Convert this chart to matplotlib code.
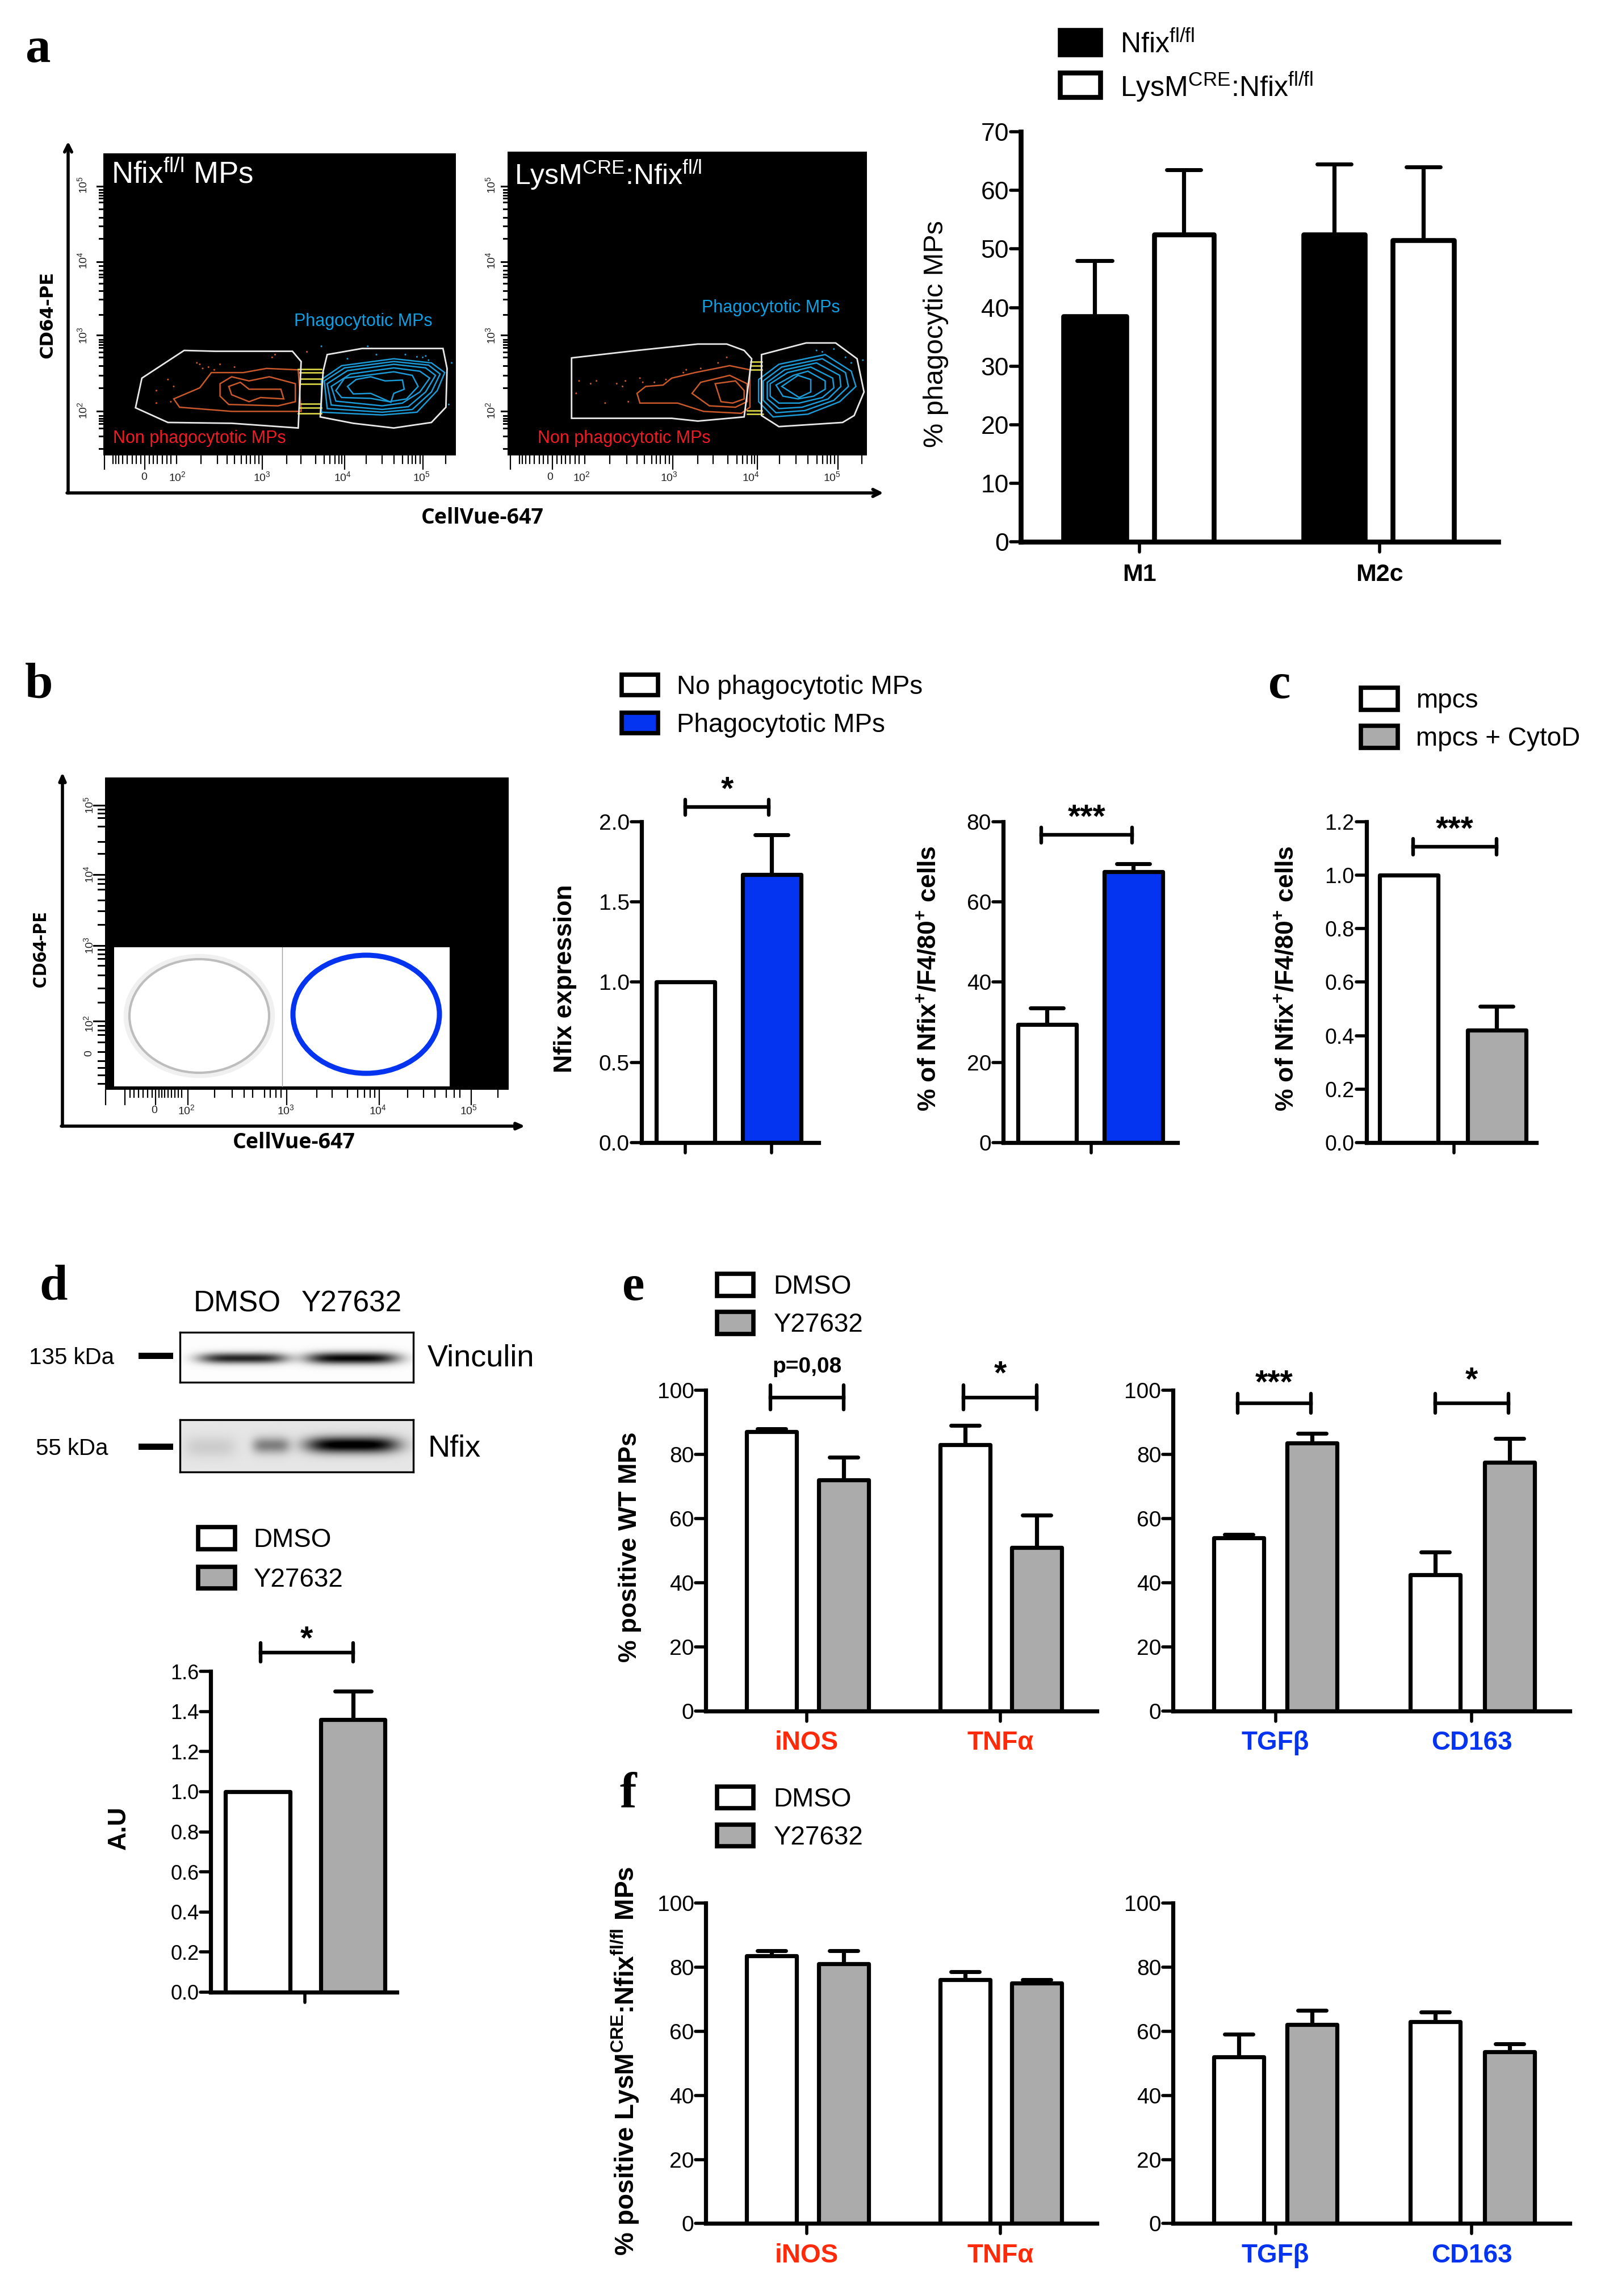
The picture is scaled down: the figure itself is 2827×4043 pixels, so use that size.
import numpy as np
import matplotlib
matplotlib.use("Agg")
import matplotlib.pyplot as plt
from matplotlib.markers import MarkerStyle
from matplotlib.patches import Rectangle, Ellipse, Polygon

plt.rcParams['font.family'] = ['Liberation Sans', 'DejaVu Sans']
plt.rcParams['mathtext.fontset'] = 'custom'
plt.rcParams['mathtext.rm'] = 'Liberation Sans'
plt.rcParams['mathtext.bf'] = 'Liberation Sans:bold'
plt.rcParams['mathtext.it'] = 'Liberation Sans:italic'
plt.rcParams['mathtext.default'] = 'regular'

W, H = 2827, 4043
S = W / 1096.0
GREY = '#ababab'
BLUE = '#0534f0'
RED = '#ff2a0a'

# ---------------- data (means and upper error limits) ----------------
a_vals = [38.5, 52.5, 52.5, 51.5]
a_errs = [48, 63.5, 64.5, 64]
a_cats = ['M1', 'M2c']
b1_vals = [1.0, 1.67]
b1_errs = [1.0, 1.92]
b2_vals = [29.5, 67.5]
b2_errs = [33.5, 69.5]
c_vals = [1.0, 0.42]
c_errs = [1.0, 0.51]
d_vals = [1.0, 1.36]
d_errs = [1.0, 1.50]
e1_vals = [87, 72, 83, 51]
e1_errs = [88, 79, 89, 61]
e2_vals = [54, 83.5, 42.5, 77.5]
e2_errs = [55, 86.5, 49.5, 85]
f1_vals = [83.5, 81, 76, 75]
f1_errs = [85, 85, 78.5, 76]
f2_vals = [52, 62, 63, 53.5]
f2_errs = [59, 66.5, 66, 56]
cats_left = ['iNOS', 'TNFα']
cats_right = ['TGFβ', 'CD163']

fig = plt.figure(figsize=(W / 100, H / 100), dpi=100, facecolor='white')
ov = fig.add_axes([0, 0, 1, 1], zorder=1)
ov.set_xlim(0, W)
ov.set_ylim(H, 0)
ov.axis('off')


def D(v):
    return v * S


def barpanel(x0, x1, y0, y1, ymax, ticks, lefts, rights, vals, errs, colors,
             ticklabels=None, xticks=(), xlabels=(), lab_colors=None, tsize=28,
             lab_size=33, lab_pad=12, lw=5.2):
    ax = fig.add_axes([D(x0) / W, 1 - D(y0) / H, D(x1 - x0) / W, D(y0 - y1) / H], zorder=2)
    ax.patch.set_alpha(0)
    ax.set_xlim(x0, x1)
    ax.set_ylim(0, ymax)
    for s in ('top', 'right'):
        ax.spines[s].set_visible(False)
    for s in ('left', 'bottom'):
        ax.spines[s].set_linewidth(lw)
    for l, r, v, e, c in zip(lefts, rights, vals, errs, colors):
        m = (l + r) / 2
        if e > v:
            cont = ax.errorbar(m, v, yerr=[[0], [e - v]], color='black', elinewidth=5.2,
                               capsize=(r - l) * S * 0.72 * 0.28, capthick=5, zorder=1)
            for cap in cont[1]:
                cap.set_marker(MarkerStyle('_', capstyle='round'))
        ax.bar(m, v, width=r - l, color=c, edgecolor='black', linewidth=lw, zorder=2,
               joinstyle='round')
    ax.set_yticks(ticks)
    ax.set_yticklabels(ticklabels if ticklabels else [str(t) for t in ticks], fontsize=tsize)
    ax.tick_params(axis='y', length=13, width=4, pad=2)
    ax.set_xticks(list(xticks))
    ax.tick_params(axis='x', length=13, width=4)
    if xlabels:
        ax.set_xticklabels(xlabels, fontsize=lab_size, fontweight='bold')
        ax.tick_params(axis='x', pad=lab_pad)
        if lab_colors:
            for t, c in zip(ax.get_xticklabels(), lab_colors):
                t.set_color(c)
    else:
        ax.set_xticklabels([])
    for ln in ax.get_yticklines() + ax.get_xticklines():
        ln.set_marker(MarkerStyle(ln.get_marker(), capstyle='round'))
    return ax


def bracket(x0, x1, y, label, ly=None, size=41, weight='bold', h=5.3):
    for xe in (x0, x1):
        ov.plot([D(xe), D(xe)], [D(y - h), D(y + h)], color='black', lw=4.6, solid_capstyle='round')
    ov.plot([D(x0), D(x1)], [D(y), D(y)], color='black', lw=4.6)
    ov.text(D((x0 + x1) / 2), D(ly), label, ha='center', va='center',
            fontsize=size, fontweight=weight)


def legend(x0, x1, rows, colors, labels, tx, size=33, lw=5.5):
    inset = lw * 100 / 72 / 2
    for (y0, y1), c, l in zip(rows, colors, labels):
        ov.add_patch(Rectangle((D(x0) + inset, D(y0) + inset), D(x1 - x0) - 2 * inset, D(y1 - y0) - 2 * inset,
                               fc=c, ec='black', lw=lw))
        ov.text(D(tx), D((y0 + y1) / 2 + 1.5), l, ha='left', va='center', fontsize=size)


def ylabel(x, y, txt, size=32, weight='bold'):
    ov.text(D(x), D(y), txt, rotation=90, ha='center', va='center', fontsize=size, fontweight=weight)


def plabel(x, y, t):
    ov.text(D(x), D(y), t, ha='left', va='center', fontsize=64, fontweight='bold',
            family='Liberation Serif')


# panel letters
plabel(17, 34, 'a')
plabel(17, 468, 'b')
plabel(866, 468, 'c')
plabel(27, 879, 'd')
plabel(425, 879, 'e')
plabel(423, 1225, 'f')

# ---------------- flow cytometry: zoom coordinate helpers ----------------
zx = lambda x: np.asarray(x, float) * 1.02
zy = lambda y: 200 + np.asarray(y, float) / 2.05


def poly(pts, color, lw=1.8, z=5):
    p = np.array(pts, float)
    ov.add_patch(Polygon(np.c_[zx(p[:, 0]), zy(p[:, 1])], closed=True, fill=False, ec=color, lw=lw, zorder=z))


gate_l1 = [(318, 855), (372, 858), (505, 858), (520, 895), (515, 1135), (400, 1118), (290, 1115), (234, 1062), (245, 955)]
gate_l2 = [(565, 870), (625, 848), (765, 848), (772, 920), (770, 1060), (745, 1115), (680, 1135), (610, 1118), (553, 1095), (558, 930)]
gate_r1 = [(987, 882), (1100, 855), (1205, 832), (1255, 832), (1285, 855), (1298, 885), (1285, 1095), (1205, 1110), (1160, 1100), (987, 1100)]
gate_r2 = [(1315, 870), (1392, 828), (1443, 828), (1480, 885), (1492, 1005), (1475, 1090), (1455, 1115), (1345, 1130), (1315, 1090)]

orange_l = [
    [(300, 1030), (345, 990), (365, 935), (420, 935), (460, 920), (515, 925), (520, 1075), (400, 1075), (310, 1060)],
    [(380, 975), (400, 950), (430, 965), (465, 950), (510, 975), (510, 1040), (480, 1055), (395, 1050), (380, 1020)],
    [(395, 985), (415, 970), (430, 995), (485, 995), (490, 1030), (450, 1025), (430, 1040), (400, 1015)],
]
orange_r = [
    [(1100, 1010), (1115, 985), (1145, 980), (1160, 955), (1200, 935), (1260, 910), (1295, 925), (1295, 1060), (1280, 1082), (1215, 1075), (1170, 1045), (1105, 1045)],
    [(1195, 1010), (1210, 970), (1260, 945), (1290, 975), (1290, 1040), (1270, 1060), (1225, 1055)],
    [(1235, 975), (1270, 965), (1285, 1000), (1285, 1030), (1265, 1045), (1245, 1040)],
]
blue_l = [
    [(555, 960), (590, 910), (680, 885), (745, 900), (768, 935), (755, 1000), (720, 1078), (660, 1088), (555, 1078)],
    [(560, 965), (595, 918), (680, 895), (740, 908), (760, 940), (745, 1005), (712, 1068), (660, 1078), (565, 1065)],
    [(565, 975), (600, 928), (680, 905), (735, 918), (752, 945), (735, 1005), (705, 1058), (660, 1068), (572, 1052)],
    [(572, 985), (605, 940), (680, 918), (725, 930), (742, 955), (725, 1005), (695, 1045), (660, 1055), (580, 1038)],
    [(580, 1000), (595, 955), (680, 932), (712, 945), (722, 985), (702, 1030), (672, 1040), (640, 1028), (590, 1025)],
    [(600, 985), (615, 960), (640, 950), (665, 965), (695, 962), (698, 995), (680, 1010), (675, 1042), (640, 1010), (610, 1012)],
]
blue_r = [
    [(1310, 960), (1345, 905), (1425, 870), (1470, 930), (1478, 985), (1450, 1040), (1395, 1085), (1335, 1095), (1310, 1040)],
    [(1318, 965), (1350, 915), (1420, 885), (1460, 935), (1465, 985), (1440, 1035), (1390, 1072), (1340, 1080), (1318, 1035)],
    [(1325, 970), (1355, 925), (1410, 900), (1450, 945), (1452, 985), (1430, 1030), (1385, 1060), (1345, 1065), (1325, 1030)],
    [(1330, 975), (1360, 935), (1400, 915), (1438, 955), (1440, 990), (1420, 1025), (1380, 1045), (1345, 1045), (1330, 1020)],
    [(1340, 980), (1370, 945), (1395, 930), (1425, 965), (1425, 995), (1405, 1020), (1378, 1030), (1352, 1020)],
    [(1350, 985), (1378, 945), (1400, 960), (1400, 1005), (1380, 1025)],
]
yellow_l = [(515, 555, 922), (518, 558, 935), (520, 555, 958), (520, 555, 975), (520, 552, 1048), (518, 555, 1062), (515, 555, 1082)]
yellow_r = [(1296, 1316, 895), (1296, 1316, 910), (1296, 1316, 925), (1290, 1316, 1072), (1290, 1318, 1085)]
dots_lx = [270, 290, 300, 345, 360, 380, 405, 470, 295, 270, 530, 555, 635, 735, 780, 775, 730, 700, 350, 370, 340, 475, 600, 650, 720, 740]
dots_ly = [1045, 960, 985, 905, 915, 905, 915, 880, 1040, 1000, 860, 840, 840, 875, 900, 1050, 880, 870, 920, 925, 900, 870, 885, 870, 878, 890]
dots_rx = [1000, 1030, 1065, 1080, 1105, 1130, 1150, 1180, 1210, 1240, 1255, 995, 1045, 1085, 1440, 1470, 1420, 1490, 1020, 1075, 1110, 1185, 1410, 1460]
dots_ry = [965, 965, 975, 965, 955, 970, 960, 935, 920, 900, 880, 1010, 1045, 1040, 850, 900, 860, 890, 975, 985, 970, 925, 855, 880]

ytick_l = [262, 275, 285, 295, 305, 320, 345, 375, 405, 450, 535, 550, 565, 580, 590, 612, 640, 670, 725, 800, 815, 825, 835, 845, 860, 880, 910, 945, 990, 1075, 1090, 1100, 1110, 1120, 1135, 1165, 1210]
xtick_l = [180, 195, 200, 205, 212, 220, 228, 235, 243, 250, 258, 265, 272, 280, 288, 295, 305, 347, 375, 392, 405, 417, 425, 432, 440, 447, 453, 495, 520, 545, 560, 570, 578, 585, 590, 595, 632, 660, 680, 695, 705, 712, 718, 725, 730, 770]

flow_panels = [
    dict(x0=178, x1=787, y0=143, y1=1235, gates=[gate_l1, gate_l2], org=orange_l, blu=blue_l, yel=yellow_l,
         dx=dots_lx, dy=dots_ly, shift=0, ylx=143, xlab=[249, 306, 452, 592, 728]),
    dict(x0=876, x1=1497, y0=137, y1=1235, gates=[gate_r1, gate_r2], org=orange_r, blu=blue_r, yel=yellow_r,
         dx=dots_rx, dy=dots_ry, shift=700, ylx=848, xlab=[950, 1004, 1155, 1297, 1437]),
]
for fp in flow_panels:
    ov.add_patch(Rectangle((zx(fp['x0']), zy(fp['y0'])), zx(fp['x1']) - zx(fp['x0']), zy(fp['y1']) - zy(fp['y0']),
                           fc='black', ec='none', zorder=3))
    for g in fp['gates']:
        poly(g, '#e8e8e8', 2.0, 6)
    for o in fp['org']:
        poly(o, '#c9592b')
    for b in fp['blu']:
        poly(b, '#1c9ad6')
    for a, b, y in fp['yel']:
        ov.plot(zx([a, b]), zy([y, y]), color='#e6e04a', lw=1.8, zorder=5)
    cols = ['#c9592b' if x < 545 or 980 < x < 1300 else '#1c9ad6' for x in fp['dx']]
    ov.scatter(zx(fp['dx']), zy(fp['dy']), s=5, c=cols, zorder=5, linewidths=0)
    for t in ytick_l:
        major = t in (262, 535, 800, 1075)
        ln = 10 if major else 6
        ov.plot([zx(fp['x0'] - ln), zx(fp['x0'])], zy([t, t]), color='black', lw=2.2, zorder=4)
    for t in xtick_l:
        xx = t + fp['shift'] if fp['shift'] == 0 else t * 1.027 + 697
        ln = 48 if t in (180, 250, 306, 453, 595, 730) else 28
        ov.plot([zx(xx), zx(xx)], zy([fp['y1'], fp['y1'] + ln]), color='black', lw=1.6, zorder=4)
    for xl, e in zip(fp['xlab'], ['0', '10^{2}', '10^{3}', '10^{4}', '10^{5}']):
        ov.text(zx(xl), zy(1313), f'${e}$', ha='center', va='center', fontsize=14, color='#222222')
    for yl, e in zip([1072, 800, 530, 258], ['2', '3', '4', '5']):
        ov.text(zx(fp['ylx']), zy(yl), f'$10^{{{e}}}$', ha='center', va='center', rotation=90, fontsize=14, color='#222222')

# panel a flow labels
ov.text(zx(192), zy(222), 'Nfix$^{fl/l}$ MPs', color='white', fontsize=38, va='center', zorder=7)
ov.text(zx(888), zy(222), 'LysM$^{CRE}$:Nfix$^{fl/l}$', color='white', fontsize=36, va='center', zorder=7)
ov.text(zx(508), zy(750), 'Phagocytotic MPs', color='#10a0e4', fontsize=22, va='center', zorder=7)
ov.text(zx(1212), zy(702), 'Phagocytotic MPs', color='#10a0e4', fontsize=22, va='center', zorder=7)
ov.text(zx(195), zy(1172), 'Non phagocytotic MPs', color='#ee1c25', fontsize=22, va='center', zorder=7)
ov.text(zx(928), zy(1172), 'Non phagocytotic MPs', color='#ee1c25', fontsize=22, va='center', zorder=7)

# arrows panel a
ap = dict(arrowstyle='->,head_width=0.45,head_length=0.9', color='black', lw=4, shrinkA=0, shrinkB=0)
ov.annotate('', xy=(120, 249), xytext=(120, 868), arrowprops=ap)
ov.annotate('', xy=(1556, 868), xytext=(118, 868), arrowprops=ap)
ov.text(84, 554, 'CD64-PE', rotation=90, ha='center', va='center', fontsize=23, fontweight='bold', family='DejaVu Sans')
ov.text(850, 912, 'CellVue-647', ha='center', va='center', fontsize=27, fontweight='bold', family='Open Sans')

# panel b flow
ov.add_patch(Rectangle((185, 1369), 711, 550, fc='black', ec='none', zorder=3))
ov.add_patch(Rectangle((201, 1668), 591, 245, fc='white', ec='none', zorder=4))
ov.plot([497, 497], [1668, 1913], color='#9a9aa8', lw=1, zorder=5)
ov.add_patch(Ellipse((351, 1789), 254, 206, fc='white', ec='#f0f0f0', lw=9, zorder=5))
ov.add_patch(Ellipse((351, 1789), 246, 200, fc='white', ec='#bdbdbd', lw=3, zorder=6))
ov.add_patch(Ellipse((645, 1786), 258, 208, fc='white', ec=BLUE, lw=6.5, zorder=6))
ap2 = dict(arrowstyle='-|>,head_width=0.35,head_length=0.8', color='black', lw=4, shrinkA=0, shrinkB=0)
ov.annotate('', xy=(110, 1360), xytext=(110, 1983), arrowprops=ap2)
ov.annotate('', xy=(925, 1983), xytext=(108, 1983), arrowprops=ap2)
ov.text(72, 1671, 'CD64-PE', rotation=90, ha='center', va='center', fontsize=24, fontweight='bold', family='Open Sans')
ov.text(518, 2012, 'CellVue-647', ha='center', va='center', fontsize=27, fontweight='bold', family='Open Sans')
ytick_b = [1418, 1425, 1432, 1440, 1455, 1482, 1503, 1540, 1548, 1556, 1566, 1585, 1604, 1628, 1665, 1672, 1680, 1688, 1700, 1717, 1740, 1765, 1798, 1806, 1814, 1822, 1835, 1852, 1868, 1880, 1893, 1908]
for t in ytick_b:
    major = t in (1418, 1540, 1665, 1798)
    ov.plot([185 - (20 if major else 12), 185], [t, t], color='black', lw=2.2, zorder=4)
xtick_b = [186, 220, 229, 236, 244, 252, 260, 268, 274, 280, 285, 290, 296, 302, 308, 314, 320, 331, 378, 409, 430, 445, 466, 476, 486, 495, 505, 558, 585, 612, 630, 642, 652, 660, 668, 718, 746, 766, 786, 800, 810, 830, 877]
for t in xtick_b:
    ov.plot([t, t], [1919, 1945 if t in (186, 220, 274, 331, 505, 668, 830) else 1932], color='black', lw=1.6, zorder=4)
for xl, e in zip([272, 328, 503, 665, 825], ['0', '10^{2}', '10^{3}', '10^{4}', '10^{5}']):
    ov.text(xl, 1955, f'${e}$', ha='center', va='center', fontsize=14, color='#222222')
for yl, e in zip([1803, 1665, 1540, 1418, 1855], ['10^{2}', '10^{3}', '10^{4}', '10^{5}', '0']):
    ov.text(157, yl, f'${e}$', ha='center', va='center', rotation=90, fontsize=14, color='#222222')


# western blots
def blot(x0, y0, x1, y1, bands, bg):
    yy, xx = np.mgrid[0:1:60j, 0:1:260j]
    img = np.full(xx.shape, bg, float)
    for cx, wx, cy, wy, amp in bands:
        img -= amp * np.exp(-((xx - cx) / wx) ** 4) * np.exp(-((yy - cy) / wy) ** 2)
    ax = fig.add_axes([x0 / W, 1 - y1 / H, (x1 - x0) / W, (y1 - y0) / H], zorder=2)
    ax.imshow(np.clip(img, 0, 1), cmap='gray', vmin=0, vmax=1, aspect='auto', extent=(0, 1, 1, 0))
    ax.set_xticks([])
    ax.set_yticks([])
    for s in ax.spines.values():
        s.set_linewidth(2.4)


vinc_bands = [(0.27, 0.19, 0.52, 0.11, 0.85), (0.74, 0.20, 0.52, 0.12, 0.97)]
nfix_bands = [(0.13, 0.11, 0.52, 0.20, 0.10), (0.39, 0.08, 0.49, 0.16, 0.40), (0.74, 0.20, 0.48, 0.16, 0.95)]
blot(317, 2346, 728, 2434, vinc_bands, 0.99)
blot(317, 2500, 728, 2592, nfix_bands, 0.90)
for y in (2387, 2547):
    ov.add_patch(Rectangle((244, y - 5), 61, 11, fc='black', ec='none'))
ov.text(D(162), D(890), 'DMSO', ha='center', va='center', fontsize=37)
ov.text(D(240), D(890), 'Y27632', ha='center', va='center', fontsize=37)
ov.text(D(49), D(927), '135 kDa', ha='center', va='center', fontsize=29)
ov.text(D(49), D(989), '55 kDa', ha='center', va='center', fontsize=29)
ov.text(D(292), D(927), 'Vinculin', ha='left', va='center', fontsize=39)
ov.text(D(292), D(989), 'Nfix', ha='left', va='center', fontsize=39)

# ---------------- bar panels ----------------
# a
barpanel(697, 1023, 370, 90, 70, list(range(0, 71, 10)), [726, 788, 890, 951], [769, 829, 932, 993],
         a_vals, a_errs, ['black', 'white', 'black', 'white'], xticks=(778, 942), xlabels=a_cats, tsize=32,
         lab_size=31, lab_pad=14, lw=6.2)
ylabel(639, 228, '% phagocytic MPs', size=35, weight='normal')
legend(722, 753, [(19, 39), (48, 68)], ['black', 'white'],
       ['Nfix$^{fl/fl}$', 'LysM$^{CRE}$:Nfix$^{fl/fl}$'], 765, size=36, lw=6.2)
# b
barpanel(438, 559, 780, 561, 2.0, [0, 0.5, 1.0, 1.5, 2.0], [448, 507], [488, 547], b1_vals, b1_errs, ['white', BLUE],
         ticklabels=['0.0', '0.5', '1.0', '1.5', '2.0'], xticks=(468, 527))
ylabel(386, 668, 'Nfix expression')
bracket(468, 525, 551, '*', ly=540)
barpanel(685, 804, 780, 561, 80, [0, 20, 40, 60, 80], [695, 754], [735, 794], b2_vals, b2_errs, ['white', BLUE],
         xticks=(745,))
ylabel(635, 668, '% of Nfix$^{+}$/F4/80$^{+}$ cells', size=32)
bracket(711, 773, 570, '***', ly=559)
legend(423, 451, [(459, 476), (485, 502)], ['white', BLUE], ['No phagocytotic MPs', 'Phagocytotic MPs'], 462)
# c
barpanel(933, 1049, 780, 561, 1.2, [0, 0.2, 0.4, 0.6, 0.8, 1.0, 1.2], [942, 1002], [982, 1042], c_vals, c_errs,
         ['white', GREY], ticklabels=['0.0', '0.2', '0.4', '0.6', '0.8', '1.0', '1.2'], xticks=(993,), tsize=27)
ylabel(879, 668, '% of Nfix$^{+}$/F4/80$^{+}$ cells', size=32)
bracket(965, 1022, 578, '***', ly=567)
legend(928, 956, [(468, 486), (494, 512)], ['white', GREY], ['mpcs', 'mpcs + CytoD'], 967)
# d
barpanel(144, 271, 1360, 1141, 1.6, [0, 0.2, 0.4, 0.6, 0.8, 1.0, 1.2, 1.4, 1.6], [154, 219], [198, 263], d_vals, d_errs,
         ['white', GREY], ticklabels=['0.0', '0.2', '0.4', '0.6', '0.8', '1.0', '1.2', '1.4', '1.6'],
         xticks=(208,), tsize=26)
ylabel(81, 1248, 'A.U', size=32)
bracket(178, 241, 1128, '*', ly=1120, h=6.5)
legend(134, 162, [(1041, 1059), (1068, 1086)], ['white', GREY], ['DMSO', 'Y27632'], 173)

# e, f
yt = [0, 20, 40, 60, 80, 100]
L1 = [510, 559, 642, 691]
R1 = [544, 593, 676, 725]
L2 = [829, 879, 963, 1014]
R2 = [863, 913, 997, 1048]
cs = ['white', GREY, 'white', GREY]
redc = [RED] * 2
bluc = [BLUE] * 2
for y0, v1, e1, v2, e2 in [(1168, e1_vals, e1_errs, e2_vals, e2_errs), (1518, f1_vals, f1_errs, f2_vals, f2_errs)]:
    barpanel(482, 749, y0, y0 - 219, 100, yt, L1, R1, v1, e1, cs, xticks=(551, 683), xlabels=cats_left,
             lab_colors=redc)
    barpanel(801, 1072, y0, y0 - 219, 100, yt, L2, R2, v2, e2, cs, xticks=(871, 1005), xlabels=cats_right,
             lab_colors=bluc)
ylabel(430, 1056, '% positive WT MPs')
ylabel(427, 1407, '% positive LysM$^{CRE}$:Nfix$^{fl/fl}$ MPs', size=33)
bracket(526, 576, 954, 'p=0,08', ly=933, size=28, h=8.3)
bracket(658, 708, 954, '*', ly=939, h=8.3)
bracket(845, 895, 958, '***', ly=945, h=6.5)
bracket(980, 1030, 958, '*', ly=943, h=6.5)
legend(488, 516, [(868, 886), (894, 912)], ['white', GREY], ['DMSO', 'Y27632'], 528)
legend(488, 516, [(1218, 1236), (1244, 1262)], ['white', GREY], ['DMSO', 'Y27632'], 528)

fig.savefig('out.png', dpi=100, facecolor='white')
